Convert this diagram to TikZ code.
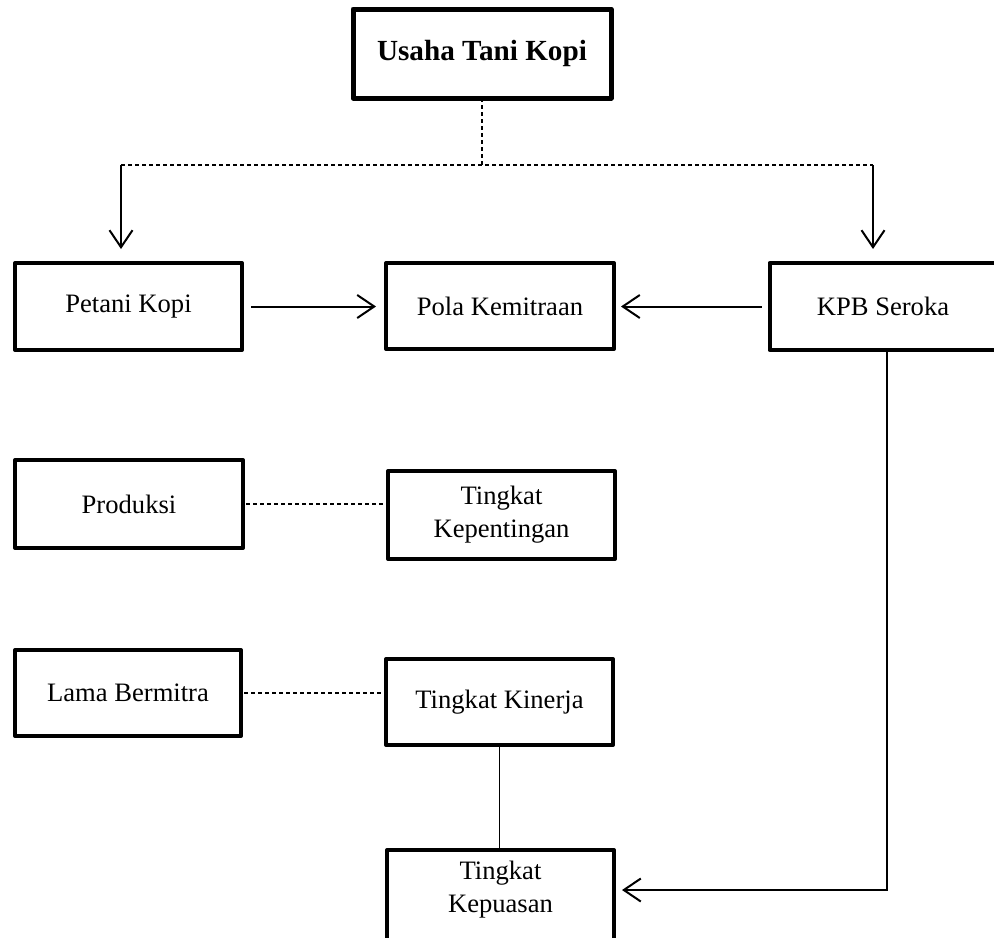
\documentclass[tikz,border=0pt]{standalone}
\usepackage{fontspec}
\setmainfont{Liberation Serif}
\usetikzlibrary{arrows.meta}
\begin{document}
\begin{tikzpicture}[x=0.5pt,y=-0.5pt,
  box/.style={draw,line width=2pt,line join=round,inner sep=0pt,outer sep=0pt,align=center,
    minimum width=113.5pt,minimum height=43.5pt,font=\fontsize{13.3}{16.5}\selectfont},
  conn/.style={line width=1pt},
  arr/.style={conn,-{Straight Barb[length=8.5pt,width=11.5pt,line width=1pt]}},
  dashlink/.style={line width=0.7pt,dash pattern=on 2pt off 1.5pt}]
\useasboundingbox (0,0) rectangle (994,937);

\node[box,line width=2.5pt,minimum width=129pt,minimum height=44.5pt,
  font=\bfseries\fontsize{14.6}{17}\selectfont] (top) at (482,53.5) {Usaha Tani Kopi};
\node[box] (pet) at (128.5,306.5) {Petani Kopi};
\node[box,minimum width=114pt,minimum height=43pt] (pol) at (500,306) {Pola Kemitraan};
\node[box] (kpb) at (883,306.5) {KPB Seroka};
\node[box,minimum width=114pt,minimum height=44pt] (pro) at (129,504) {Produksi};
\node[box,minimum height=44pt] (kep) at (501.5,515) {Tingkat\\Kepentingan};
\node[box,minimum width=113pt,minimum height=43pt] (lam) at (128,693) {Lama Bermitra};
\node[box,minimum height=43pt] (kin) at (499.5,702) {Tingkat Kinerja};
\node[box,minimum width=113.5pt,minimum height=48pt] (kpu) at (500.5,898) {};
\node[align=center,inner sep=0pt,font=\fontsize{13.3}{16.5}\selectfont] (kputext) at (500.5,890) {Tingkat\\Kepuasan};

\coordinate (jm) at (482,165);
\coordinate (jl) at (121,165);
\coordinate (jr) at (873,165);
\draw[dashlink] (top.south) -- (jm);
\draw[dashlink] (jl) -- (jr);
\draw[arr,shorten >=7pt] (jl) -- (jl |- pet.north);
\draw[arr,shorten >=7pt] (jr) -- (jr |- kpb.north);

\draw[arr,shorten <=4.5pt,shorten >=5pt] (pet.east) -- (pet.east -| pol.west);
\draw[arr,shorten <=4pt,shorten >=3.5pt] (kpb.west) -- (kpb.west -| pol.east);

\draw[dashlink,shorten <=1.5pt] (pro.east) -- (pro.east -| kep.west);
\draw[dashlink,shorten <=1.5pt] (lam.east) -- (lam.east -| kin.west);

\draw[conn,line width=0.8pt] (kin.south) -- (kin.south |- kpu.north);

\coordinate (kc) at (887,890);
\draw[arr,shorten >=4pt] (kpb.south -| kc) -- (kc) -- (kc -| kpu.east);
\end{tikzpicture}
\end{document}
